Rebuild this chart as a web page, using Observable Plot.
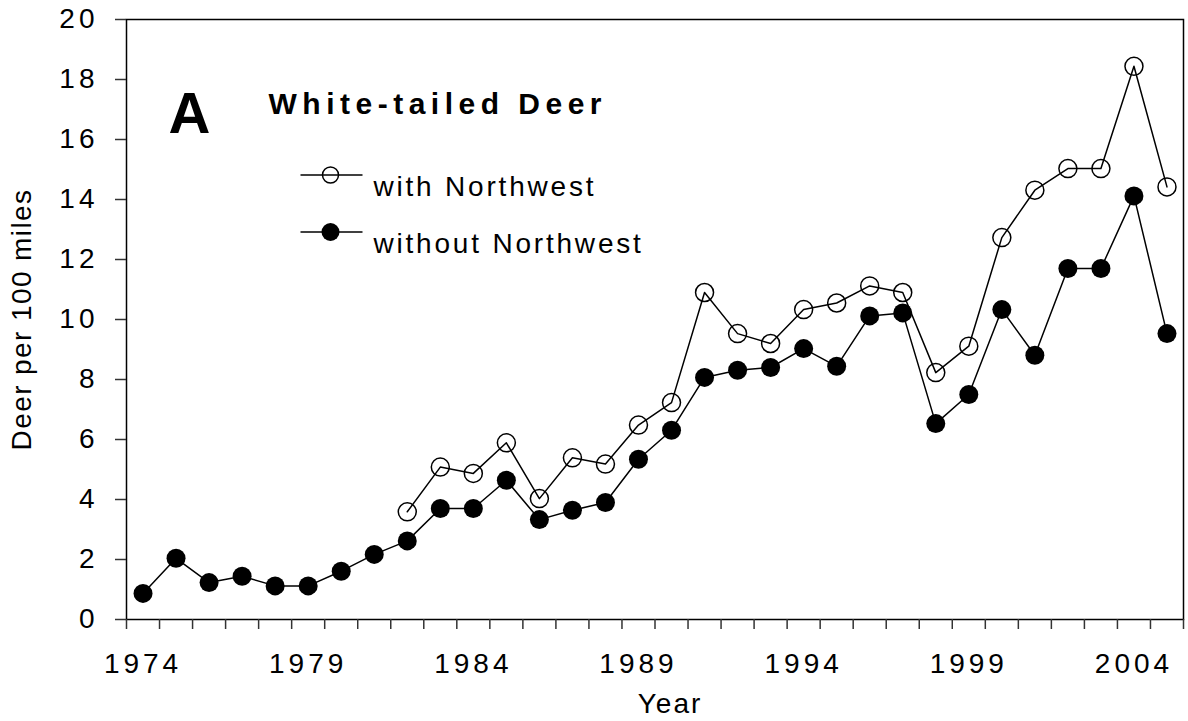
<!DOCTYPE html>
<html>
<head>
<meta charset="utf-8">
<script src="https://cdn.jsdelivr.net/npm/d3@7"></script>
<script src="https://cdn.jsdelivr.net/npm/@observablehq/plot@0.6"></script>
<style>
  html, body { margin: 0; padding: 0; background: #fff; }
  #chart svg { font-family: "Liberation Sans", Arial, sans-serif; color: #000; }
  g[aria-label="x-axis tick label"] text, g[aria-label="y-axis tick label"] text { letter-spacing: 4px; }
  text[aria-label="ytitle"] { letter-spacing: 1.4px; }
  text[aria-label="xtitle"] { letter-spacing: 2px; }
  text[aria-label="title"] { letter-spacing: 5.5px; }
  text[aria-label="legend-text"] { letter-spacing: 2.8px; }
</style>
</head>
<body>
<div id="chart"></div>
<script>
// ---- Data ----
const years = [1974, 1975, 1976, 1977, 1978, 1979, 1980, 1981, 1982, 1983, 1984, 1985, 1986, 1987, 1988, 1989,
               1990, 1991, 1992, 1993, 1994, 1995, 1996, 1997, 1998, 1999, 2000, 2001, 2002, 2003, 2004, 2005];
const withoutNorthwest = [0.87, 2.04, 1.23, 1.44, 1.12, 1.12, 1.61, 2.17, 2.62, 3.70, 3.70, 4.64, 3.33, 3.64, 3.90, 5.34,
                          6.31, 8.07, 8.31, 8.40, 9.03, 8.44, 10.12, 10.22, 6.53, 7.50, 10.33, 8.81, 11.70, 11.70, 14.12, 9.53];
const withNorthwest = [null, null, null, null, null, null, null, null, 3.59, 5.08, 4.87, 5.89, 4.03, 5.39, 5.18, 6.48,
                       7.23, 10.90, 9.53, 9.20, 10.33, 10.55, 11.12, 10.90, 8.23, 9.11, 12.73, 14.31, 15.03, 15.03, 18.44, 14.42];
const xTickLabels = [1974, 1979, 1984, 1989, 1994, 1999, 2004];
const yTicks = [0, 2, 4, 6, 8, 10, 12, 14, 16, 18, 20];
const seriesNames = ["with Northwest", "without Northwest"];
const panelLetter = "A";
const titleText = "White-tailed Deer";
const xTitle = "Year";
const yTitle = "Deer per 100 miles";

// ---- Build table ----
const rowsWithout = years.map((yr, i) => ({year: yr, value: withoutNorthwest[i]}));
const rowsWith = years.map((yr, i) => ({year: yr, value: withNorthwest[i]})).filter(d => d.value != null);
const categoryBounds = years.map(y => y - 0.5).concat([years[years.length - 1] + 0.5]);

const legendLine = {
  draw(context) { context.moveTo(-31, 0); context.lineTo(31, 0); }
};
const tag = (name) => () => name;

const chart = Plot.plot({
  width: 1188,
  height: 721,
  marginLeft: 126,
  marginRight: 5,
  marginTop: 19,
  marginBottom: 102,
  style: {background: "#fff", overflow: "visible"},
  x: {domain: [categoryBounds[0], categoryBounds[categoryBounds.length - 1]], axis: null},
  y: {domain: [0, 20], axis: null},
  marks: [
    Plot.frame({stroke: "#000", strokeWidth: 1.5}),
    Plot.axisY({ticks: yTicks, tickSize: 11, tickPadding: 17, fontSize: 28, label: null, stroke: "#333", strokeWidth: 1.5, tickFormat: d => String(d)}),
    Plot.axisX({ticks: categoryBounds, tickSize: 10, label: null, stroke: "#333", strokeWidth: 1.5, tickFormat: () => ""}),
    Plot.axisX({ticks: xTickLabels, tickSize: 0, tickPadding: 34, fontSize: 28, label: null, tickFormat: d => String(d)}),
    Plot.text([yTitle], {frameAnchor: "left", textAnchor: "middle", dx: -104, rotate: -90, fontSize: 28, fill: "#000", ariaLabel: tag("ytitle")}),
    Plot.text([xTitle], {frameAnchor: "bottom", textAnchor: "middle", dx: 15, dy: 93, fontSize: 28, fill: "#000", ariaLabel: tag("xtitle")}),
    Plot.text([panelLetter], {frameAnchor: "top-left", dx: 42, dy: 72, fontSize: 58, fontWeight: "bold", textAnchor: "start", fill: "#000", ariaLabel: tag("letter")}),
    Plot.text([titleText], {frameAnchor: "top-left", dx: 142, dy: 73.5, fontSize: 30, fontWeight: "bold", textAnchor: "start", fill: "#000", ariaLabel: tag("title")}),
    // legend
    Plot.dot([seriesNames[0]], {frameAnchor: "top-left", dx: 205, dy: 155.5, symbol: legendLine, r: 5, stroke: "#000", strokeWidth: 1.5, fill: "none"}),
    Plot.dot([seriesNames[0]], {frameAnchor: "top-left", dx: 204, dy: 155.5, r: 8, stroke: "#000", strokeWidth: 1.5, fill: "none"}),
    Plot.dot([seriesNames[1]], {frameAnchor: "top-left", dx: 205, dy: 212.5, symbol: legendLine, r: 5, stroke: "#000", strokeWidth: 1.5, fill: "none"}),
    Plot.dot([seriesNames[1]], {frameAnchor: "top-left", dx: 204, dy: 212.5, r: 9, fill: "#000", stroke: "none"}),
    Plot.text([seriesNames[0]], {frameAnchor: "top-left", dx: 247, dy: 157, fontSize: 28, textAnchor: "start", fill: "#000", ariaLabel: tag("legend-text")}),
    Plot.text([seriesNames[1]], {frameAnchor: "top-left", dx: 247, dy: 213.5, fontSize: 28, textAnchor: "start", fill: "#000", ariaLabel: tag("legend-text")}),
    // data
    Plot.line(rowsWith, {x: "year", y: "value", stroke: "#000", strokeWidth: 1.5}),
    Plot.line(rowsWithout, {x: "year", y: "value", stroke: "#000", strokeWidth: 1.5}),
    Plot.dot(rowsWith, {x: "year", y: "value", r: 9, stroke: "#000", strokeWidth: 1.5, fill: "none"}),
    Plot.dot(rowsWithout, {x: "year", y: "value", r: 9.5, fill: "#000", stroke: "none"})
  ]
});
document.getElementById("chart").appendChild(chart);
</script>
</body>
</html>
